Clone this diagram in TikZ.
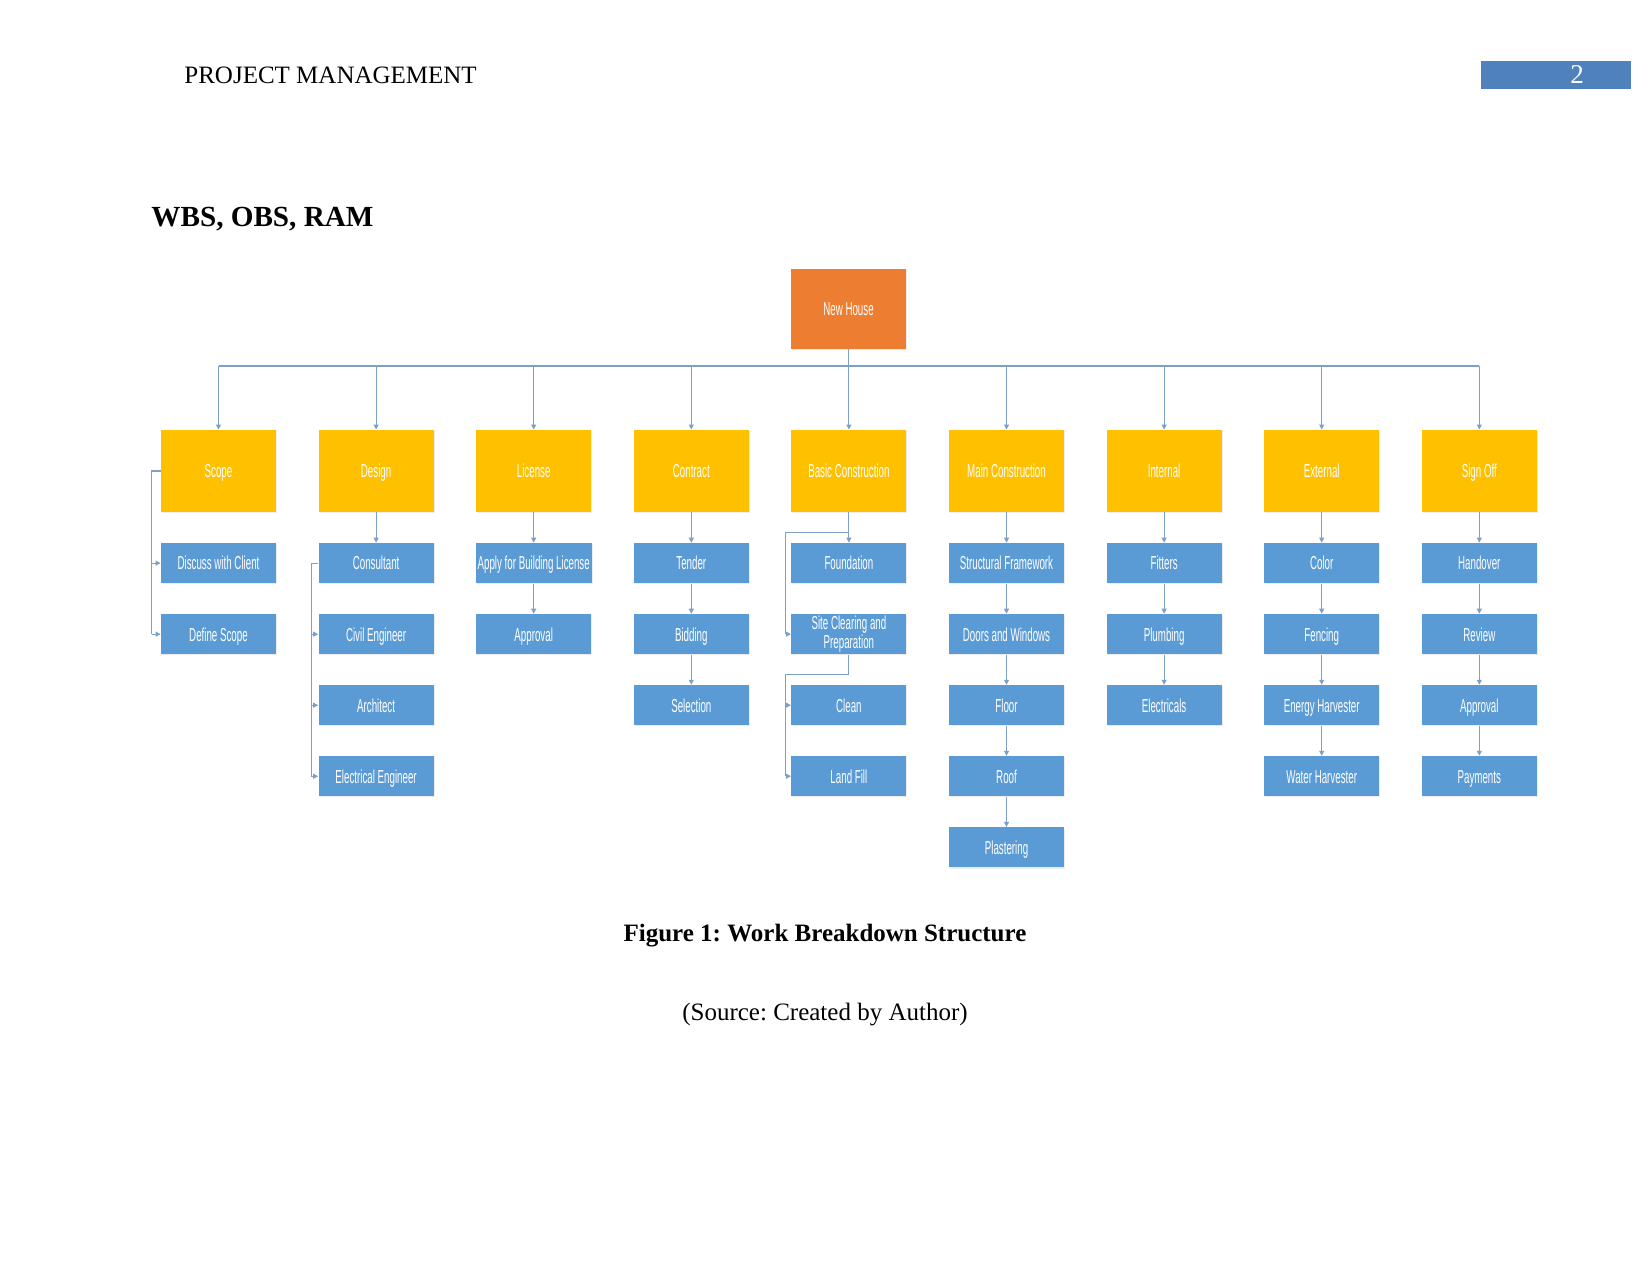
\documentclass[tikz,border=0pt]{standalone}
\usepackage{fontspec}
\setmainfont{Liberation Serif}
\newfontfamily\boxfont[FakeStretch=0.52]{Liberation Sans}
\usepackage{xcolor}
\definecolor{rootorange}{RGB}{237,125,49}
\definecolor{phaseyellow}{RGB}{255,192,0}
\definecolor{taskblue}{RGB}{91,155,213}
\definecolor{linkgray}{RGB}{125,160,200}
\definecolor{pageblue}{RGB}{79,129,189}
\usetikzlibrary{arrows.meta,positioning,shadows}
\frenchspacing
\tikzset{
  boxbase/.style={text=white,minimum width=55.2pt,font=\boxfont\fontsize{9}{10}\selectfont,%
    inner sep=1pt,align=center,%
    drop shadow={opacity=0.15,shadow xshift=0.5pt,shadow yshift=-0.6pt}},
  rootbox/.style={boxbase,fill=rootorange,minimum height=38.4pt,text height=7.6pt,text depth=1pt},
  phasebox/.style={rootbox,fill=phaseyellow,minimum height=39.4pt},
  taskbox/.style={rootbox,fill=taskblue,minimum height=19.2pt},
  twolinebox/.style={boxbase,fill=taskblue,minimum height=19.2pt,inner ysep=0pt,%
    font=\boxfont\fontsize{9}{9.2}\selectfont},
  link/.style={draw=linkgray,line width=0.5pt},
  flow/.style={link,-{Triangle[length=2.4pt,width=2.4pt]}},
}
\begin{document}
\begin{tikzpicture}[x=0.48pt,y=-0.48pt,node distance=14.5pt]
\useasboundingbox (0,0) rectangle (1651,1275);
% page head
\node[anchor=base west,font=\fontsize{12}{14}\selectfont,inner sep=0pt] (head) at (184,83) {PROJECT MANAGEMENT};
\node[fill=pageblue,minimum width=72pt,minimum height=13.4pt,inner sep=0pt] (pagebox) at (1556,75) {};
\node[text=white,font=\fontsize{13}{15}\selectfont,inner sep=0pt] (pageno) at (1577,75) {2};
\node[anchor=base west,font=\bfseries\fontsize{14}{16}\selectfont,inner sep=0pt] (title) at (151,226) {WBS, OBS, RAM};
% tree
\node[rootbox] (root) at (848.5,309) {New House};
\coordinate (bus) at (848.5,366);
\foreach \name/\label [count=\i from 0] in {scope/Scope,design/Design,license/License,%
    contract/Contract,basic/Basic Construction,main/Main Construction,internal/Internal,%
    external/External,signoff/Sign Off}
  \node[phasebox] (\name) at ({218.5+157.6*\i},471) {\label};
\draw[link] (root) -- (root|-bus);
\draw[link] (scope|-bus) -- (signoff|-bus);
\foreach \name in {scope,design,license,contract,basic,main,internal,external,signoff}
  \draw[flow] (\name|-bus) -- (\name.north);
% work packages
\node[taskbox,below=of scope] (discuss) {Discuss with Client};
\node[taskbox,below=of discuss] (define) {Define Scope};
\node[taskbox,below=of design] (consultant) {Consultant};
\node[taskbox,below=of consultant] (civil) {Civil Engineer};
\node[taskbox,below=of civil] (architect) {Architect};
\node[taskbox,below=of architect] (electrical) {Electrical Engineer};
\node[taskbox,below=of license] (apply) {Apply for Building License};
\node[taskbox,below=of apply] (approvalL) {Approval};
\node[taskbox,below=of contract] (tender) {Tender};
\node[taskbox,below=of tender] (bidding) {Bidding};
\node[taskbox,below=of bidding] (selection) {Selection};
\node[taskbox,below=of basic] (foundation) {Foundation};
\node[twolinebox,below=of foundation] (site) {Site Clearing and\\Preparation};
\node[taskbox,below=of site] (clean) {Clean};
\node[taskbox,below=of clean] (landfill) {Land Fill};
\node[taskbox,below=of main] (framework) {Structural Framework};
\node[taskbox,below=of framework] (doors) {Doors and Windows};
\node[taskbox,below=of doors] (floor) {Floor};
\node[taskbox,below=of floor] (roof) {Roof};
\node[taskbox,below=of roof] (plaster) {Plastering};
\node[taskbox,below=of internal] (fitters) {Fitters};
\node[taskbox,below=of fitters] (plumbing) {Plumbing};
\node[taskbox,below=of plumbing] (electricals) {Electricals};
\node[taskbox,below=of external] (color) {Color};
\node[taskbox,below=of color] (fencing) {Fencing};
\node[taskbox,below=of fencing] (energy) {Energy Harvester};
\node[taskbox,below=of energy] (water) {Water Harvester};
\node[taskbox,below=of signoff] (handover) {Handover};
\node[taskbox,below=of handover] (review) {Review};
\node[taskbox,below=of review] (approvalS) {Approval};
\node[taskbox,below=of approvalS] (payments) {Payments};
% vertical links
\foreach \a/\b in {design/consultant,license/apply,contract/tender,basic/foundation,%
    main/framework,internal/fitters,external/color,signoff/handover,apply/approvalL,%
    tender/bidding,bidding/selection,framework/doors,doors/floor,floor/roof,roof/plaster,%
    fitters/plumbing,plumbing/electricals,color/fencing,fencing/energy,energy/water,%
    handover/review,review/approvalS,approvalS/payments}
  \draw[flow] (\a) -- (\b);
% side links
\draw[link] (scope.west) -- ++(-9,0) coordinate (sb) -- (sb|-define.west);
\foreach \t in {discuss,define} \draw[flow] (sb|-\t.west) -- (\t.west);
\draw[link] (consultant.west) -- ++(-7,0) coordinate (cb) -- (cb|-electrical.west);
\foreach \t in {civil,architect,electrical} \draw[flow] (cb|-\t.west) -- (\t.west);
\draw[link] (basic.south) ++(0,20) -- ++(-63,0) coordinate (bb) -- (bb|-site.west);
\draw[flow] (bb|-site.west) -- (site.west);
\draw[link] (site.south) -- ++(0,20) -- ++(-63,0) coordinate (kb) -- (kb|-landfill.west);
\foreach \t in {clean,landfill} \draw[flow] (kb|-\t.west) -- (\t.west);
% caption
\node[font=\bfseries\fontsize{12}{14}\selectfont] (caption) at (825,936) {Figure 1: Work Breakdown Structure};
\node[font=\fontsize{12}{14}\selectfont] (source) at (825,1015) {(Source: Created by Author)};
\end{tikzpicture}
\end{document}
